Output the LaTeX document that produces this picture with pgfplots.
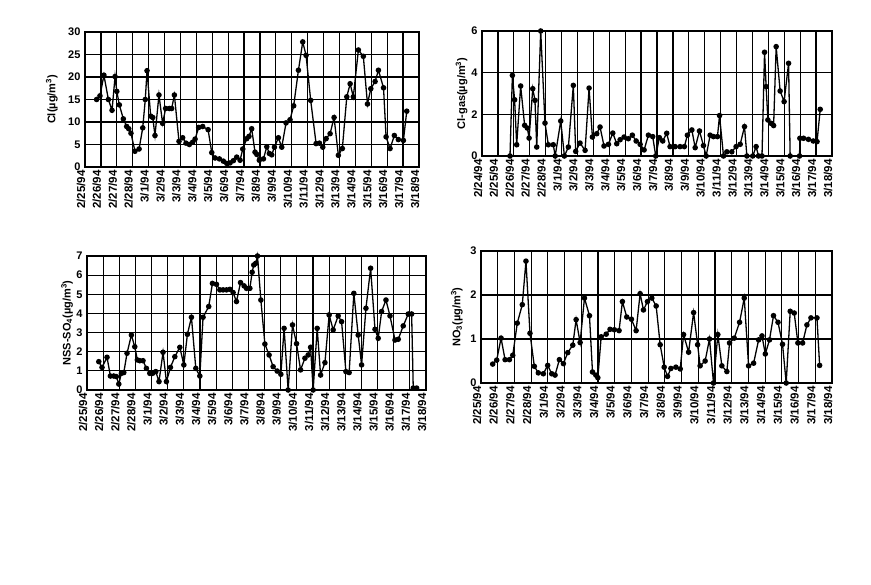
\documentclass[border=0pt]{standalone}
\usepackage{fontspec}
\setmainfont{Liberation Sans}
\usepackage{pgfplots}
\pgfplotsset{compat=1.18}
\pgfplotsset{
  ser/.style={black, solid, line width=1.3pt, mark=*, mark size=2.1pt, mark options={solid, fill=black}},
  panel/.style={
    scale only axis,
    anchor=south west,
    grid=major,
    major grid style={black, line width=1.25pt},
    axis line style={black, line width=2pt},
    major tick length=0pt,
    ymin=0,
    clip=false,
    /pgf/number format/assume math mode=true,
    yticklabel style={font=\bfseries\fontsize{11}{13}\selectfont, xshift=-1pt},
    xticklabel style={font=\bfseries\fontsize{11.5}{13}\selectfont, rotate=90, anchor=base east},
    label style={font=\bfseries\fontsize{11}{13}\selectfont},
  },
  dates1/.style={
    xmin=1, xmax=22, xtick={1,...,22},
    xticklabels={2/25/94,2/26/94,2/27/94,2/28/94,3/1/94,3/2/94,3/3/94,3/4/94,3/5/94,3/6/94,3/7/94,3/8/94,3/9/94,3/10/94,3/11/94,3/12/94,3/13/94,3/14/94,3/15/94,3/16/94,3/17/94,3/18/94},
  },
}
\begin{document}
\begin{tikzpicture}
\path[use as bounding box] (0,0) rectangle (871pt,585pt);

% Panel 1: Cl
\begin{axis}[panel, dates1, at={(85pt,418pt)}, width=334pt, height=135pt,
  ymax=30, ytick={0,5,...,30},
  ylabel={Cl(µg/m$^{\mathbf{3}}$)},
  ylabel style={at={(axis description cs:-0.099,0.5)}, anchor=center}]
\addplot[ser] coordinates {
(1.73,15.0)(1.94,15.8)(2.19,20.4)(2.47,15.0)(2.70,12.6)(2.89,20.1)(3.0,16.8)(3.16,13.8)
(3.41,10.7)(3.62,9.0)(3.75,8.5)(3.89,7.5)(4.14,3.5)(4.40,4.0)(4.63,8.7)(4.79,15.0)
(4.90,21.4)(5.13,11.3)(5.26,11.0)(5.40,7.0)(5.65,16.0)(5.88,9.7)(6.07,13.0)(6.30,13.0)
(6.45,13.0)(6.62,16.0)(6.91,5.7)(7.14,6.5)(7.35,5.3)(7.56,5.0)(7.77,5.5)(7.92,6.2)
(8.15,8.8)(8.40,9.0)(8.74,8.3)(8.97,3.2)(9.18,2.0)(9.45,1.8)(9.70,1.3)(9.91,0.8)
(10.12,0.9)(10.33,1.4)(10.54,2.2)(10.75,1.5)(10.92,4.0)(11.17,6.3)(11.31,6.8)(11.48,8.5)
(11.69,3.3)(11.80,2.8)(11.96,1.5)(12.22,1.8)(12.43,4.5)(12.59,3.0)(12.74,2.7)(12.91,4.4)
(13.16,6.5)(13.37,4.4)(13.64,9.8)(13.89,10.5)(14.12,13.6)(14.42,21.5)(14.69,27.8)(14.90,24.8)
(15.19,14.8)(15.53,5.2)(15.74,5.3)(15.95,4.4)(16.16,6.3)(16.41,7.4)(16.66,11.0)(16.93,2.6)
(17.18,4.1)(17.46,15.6)(17.67,18.5)(17.87,15.6)(18.19,26.0)(18.50,24.6)(18.76,14.0)(18.97,17.4)
(19.24,19.0)(19.45,21.5)(19.77,17.6)(19.93,6.7)(20.18,4.1)(20.45,7.0)(20.70,6.1)(21.02,5.9)
(21.23,12.4)
};
\end{axis}

% Panel 2: Cl-gas
\begin{axis}[panel, at={(482pt,429pt)}, width=350pt, height=125pt,
  xmin=0, xmax=22, xtick={0,...,22},
  xticklabels={2/24/94,2/25/94,2/26/94,2/27/94,2/28/94,3/1/94,3/2/94,3/3/94,3/4/94,3/5/94,3/6/94,3/7/94,3/8/94,3/9/94,3/10/94,3/11/94,3/12/94,3/13/94,3/14/94,3/15/94,3/16/94,3/17/94,3/18/94},
  ymax=6, ytick={0,2,4,6},
  ylabel={Cl-gas(µg/m$^{\mathbf{3}}$)},
  ylabel style={at={(axis description cs:-0.058,0.5)}, anchor=center}]
\addplot[ser] coordinates {
(1.76,0)(1.91,3.87)(2.05,2.7)(2.18,0.54)(2.43,3.36)(2.68,1.47)(2.85,1.34)(2.96,0.86)
(3.19,3.23)(3.33,2.67)(3.44,0.43)(3.69,6.0)(3.96,1.58)(4.17,0.54)(4.48,0.54)(4.6,0)
(4.95,1.68)(5.18,0)(5.43,0.43)(5.74,3.39)(5.89,0.22)(6.16,0.62)(6.48,0.27)(6.73,3.26)
(6.94,0.91)(7.21,1.07)(7.42,1.39)(7.67,0.48)(7.95,0.56)(8.22,1.10)(8.47,0.59)(8.68,0.78)
(8.93,0.91)(9.20,0.83)(9.45,1.0)(9.69,0.72)(9.94,0.56)(10.19,0.29)(10.46,1.0)(10.73,0.93)
(10.92,0)(11.15,0.88)(11.36,0.72)(11.61,1.09)(11.82,0.45)(12.14,0.45)(12.45,0.45)(12.72,0.45)
(12.91,1.0)(13.19,1.25)(13.40,0.4)(13.67,1.2)(13.92,0.5)(14.09,0)(14.34,1.0)(14.55,0.93)
(14.80,0.93)(14.93,1.94)(15.18,0)(15.39,0.2)(15.70,0.2)(15.97,0.45)(16.23,0.56)(16.50,1.41)
(16.65,0)(17.02,0)(17.23,0.45)(17.38,0)(17.6,0)(17.76,4.98)(17.86,3.33)(17.97,1.73)
(18.16,1.57)(18.33,1.46)(18.49,5.25)(18.74,3.12)(18.99,2.61)(19.27,4.45)(19.37,0)(19.96,0)
(19.98,0.85)(20.21,0.85)(20.52,0.80)(20.82,0.72)(21.06,0.69)(21.26,2.24)
};
\end{axis}

% Panel 3: NSS-SO4
\begin{axis}[panel, dates1, at={(87pt,195pt)}, width=339pt, height=134pt,
  ymax=7, ytick={0,...,7},
  ylabel={NSS-SO$_{\mathbf{4}}$(µg/m$^{\mathbf{3}}$)},
  ylabel style={at={(axis description cs:-0.059,0.5)}, anchor=center}]
\addplot[ser] coordinates {
(1.73,1.48)(1.93,1.18)(2.24,1.71)(2.45,0.73)(2.66,0.73)(2.82,0.70)(2.97,0.31)(3.13,0.87)
(3.28,0.91)(3.48,1.92)(3.75,2.87)(3.96,2.26)(4.12,1.57)(4.27,1.53)(4.47,1.53)(4.68,1.13)
(4.89,0.87)(5.06,0.87)(5.26,0.96)(5.46,0.44)(5.71,1.97)(5.92,0.44)(6.17,1.18)(6.44,1.74)
(6.75,2.23)(7.00,1.31)(7.22,2.91)(7.47,3.80)(7.74,1.13)(7.99,0.73)(8.19,3.80)(8.54,4.36)
(8.77,5.57)(9.02,5.52)(9.23,5.23)(9.43,5.23)(9.64,5.23)(9.85,5.26)(10.05,5.09)(10.26,4.62)
(10.51,5.61)(10.73,5.44)(10.88,5.31)(11.09,5.31)(11.23,6.15)(11.33,6.53)(11.46,6.62)(11.56,7.0)
(11.77,4.70)(12.02,2.40)(12.28,1.83)(12.53,1.22)(12.78,0.99)(13.01,0.82)(13.21,3.22)(13.46,0)
(13.73,3.40)(13.98,2.42)(14.23,1.05)(14.50,1.66)(14.70,1.83)(14.85,2.23)(15.01,0)(15.26,3.22)
(15.47,0.78)(15.74,1.43)(16.00,3.92)(16.25,3.14)(16.56,3.87)(16.77,3.57)(17.04,0.96)(17.24,0.91)
(17.53,5.05)(17.80,2.87)(18.01,1.31)(18.28,4.27)(18.57,6.36)(18.84,3.17)(19.04,2.70)(19.25,4.10)
(19.52,4.70)(19.77,3.87)(20.08,2.61)(20.28,2.65)(20.59,3.35)(20.90,3.97)(21.11,3.97)(21.21,0.1)
(21.42,0.1)
};
\end{axis}

% Panel 4: NO3
\begin{axis}[panel, dates1, at={(481pt,202pt)}, width=351pt, height=132pt,
  ymax=3, ytick={0,1,2,3},
  ylabel={NO$_{\mathbf{3}}$(µg/m$^{\mathbf{3}}$)},
  ylabel style={at={(axis description cs:-0.069,0.5)}, anchor=center}]
\addplot[ser] coordinates {
(1.70,0.43)(1.94,0.52)(2.20,1.02)(2.44,0.53)(2.70,0.53)(2.90,0.63)(3.17,1.36)(3.47,1.78)
(3.69,2.77)(3.93,1.13)(4.19,0.38)(4.43,0.23)(4.73,0.21)(4.99,0.40)(5.23,0.21)(5.43,0.18)
(5.69,0.53)(5.93,0.44)(6.19,0.69)(6.49,0.86)(6.69,1.44)(6.93,0.92)(7.19,1.93)(7.49,1.53)
(7.67,0.25)(7.87,0.18)(7.99,0.12)(8.19,1.05)(8.49,1.11)(8.72,1.22)(8.98,1.21)(9.26,1.19)
(9.46,1.85)(9.72,1.50)(10.00,1.45)(10.28,1.19)(10.52,2.03)(10.72,1.66)(10.96,1.85)(11.22,1.93)
(11.48,1.75)(11.72,0.87)(11.96,0.36)(12.16,0.15)(12.36,0.33)(12.66,0.36)(12.92,0.32)(13.12,1.10)
(13.42,0.70)(13.72,1.60)(13.96,0.87)(14.11,0.39)(14.41,0.50)(14.67,1.0)(14.91,0)(15.17,1.10)
(15.41,0.39)(15.71,0.26)(15.87,0.91)(16.15,1.02)(16.47,1.38)(16.75,1.93)(17.01,0.39)(17.31,0.45)
(17.61,0.98)(17.81,1.07)(18.01,0.66)(18.26,0.98)(18.50,1.53)(18.77,1.38)(19.04,0.88)(19.26,0)
(19.50,1.63)(19.74,1.59)(19.96,0.91)(20.24,0.91)(20.50,1.32)(20.74,1.48)(21.10,1.48)(21.26,0.40)
};
\end{axis}
\end{tikzpicture}
\end{document}
